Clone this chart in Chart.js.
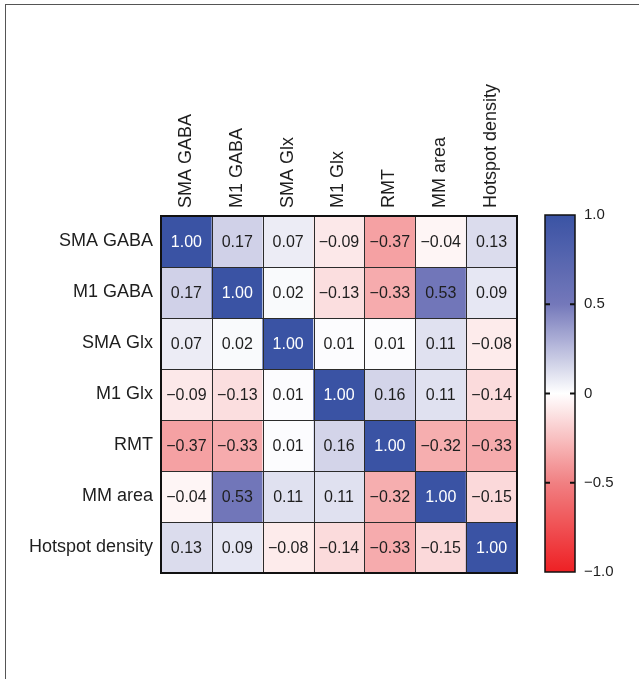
<!DOCTYPE html>
<html>
<head>
<meta charset="utf-8">
<script src="https://cdn.jsdelivr.net/npm/chart.js@4"></script>
<style>
  html, body { margin: 0; padding: 0; background: #fff; }
  #wrap { position: relative; width: 639px; height: 679px; overflow: hidden; }
  #frame { position: absolute; left: 5px; top: 4px; width: 640px; height: 690px;
           border-top: 1px solid #555; border-left: 1px solid #555; }
  #heat { position: absolute; left: 0; top: 0; }
  #bar { position: absolute; left: 530px; top: 0; }
</style>
</head>
<body>
<div id="wrap">
  <div id="frame"></div>
  <canvas id="heat" width="530" height="600"></canvas>
  <canvas id="bar" width="109" height="679"></canvas>
</div>
<script>
// variables, same order for rows and columns
const rowLabels = ['SMA GABA', 'M1 GABA', 'SMA Glx', 'M1 Glx', 'RMT', 'MM area', 'Hotspot density'];
const colLabels = ['SMA GABA', 'M1 GABA', 'SMA Glx', 'M1 Glx', 'RMT', 'MM area', 'Hotspot density'];

// correlation matrix, one array per row
const smaGaba  = [1.00, 0.17, 0.07, -0.09, -0.37, -0.04, 0.13];
const m1Gaba   = [0.17, 1.00, 0.02, -0.13, -0.33, 0.53, 0.09];
const smaGlx   = [0.07, 0.02, 1.00, 0.01, 0.01, 0.11, -0.08];
const m1Glx    = [-0.09, -0.13, 0.01, 1.00, 0.16, 0.11, -0.14];
const rmt      = [-0.37, -0.33, 0.01, 0.16, 1.00, -0.32, -0.33];
const mmArea   = [-0.04, 0.53, 0.11, 0.11, -0.32, 1.00, -0.15];
const hotspot  = [0.13, 0.09, -0.08, -0.14, -0.33, -0.15, 1.00];
const corr = [smaGaba, m1Gaba, smaGlx, m1Glx, rmt, mmArea, hotspot];

// colour bar ticks
const barTicks = [1, 0.5, 0, -0.5, -1];
const barTickLabels = ['1.0', '0.5', '0', '\u22120.5', '\u22121.0'];

const FONT = '"Liberation Sans", Arial, Helvetica, sans-serif';

// blue / white / red colour scale
const posStops = [[255, 255, 255], [116, 120, 186], [58, 83, 164]];
const negStops = [[255, 255, 255], [241, 128, 130], [238, 32, 36]];

function corrColor(v) {
    const stops = v >= 0 ? posStops : negStops;
    const t = Math.min(1, Math.abs(v)) * 2;
    const i = t >= 1 ? 1 : 0;
    const f = t - i;
    const a = stops[i], b = stops[i + 1];
    const c = a.map((x, k) => Math.round(x + (b[k] - x) * f));
    return 'rgb(' + c.join(',') + ')';
}

function fmt(v) {
    const s = Math.abs(v).toFixed(2);
    return v < 0 ? '\u2212' + s : s;
}

// draws cell values, the inner grid and the outer frame
const cellPlugin = {
    id: 'cells',
    afterDatasetsDraw(chart) {
        const ctx = chart.ctx;
        const xs = chart.scales.x, ys = chart.scales.y;
        const area = chart.chartArea;
        ctx.save();
        ctx.font = '16px ' + FONT;
        ctx.textAlign = 'center';
        ctx.textBaseline = 'middle';
        chart.data.datasets.forEach((ds, r) => {
            chart.getDatasetMeta(r).data.forEach((el, c) => {
                const v = corr[r][c];
                ctx.fillStyle = v > 0.8 ? '#ffffff' : '#1e1e1e';
                ctx.fillText(fmt(v), el.x, (el.y + el.base) / 2 + 1);
            });
        });
        ctx.strokeStyle = '#2b2b2b';
        ctx.lineWidth = 1;
        ctx.beginPath();
        for (let i = 1; i < colLabels.length; i++) {
            const x = Math.round(xs.getPixelForValue(i - 0.5)) + 0.5;
            ctx.moveTo(x, area.top);
            ctx.lineTo(x, area.bottom);
        }
        for (let i = 1; i < rowLabels.length; i++) {
            const y = Math.round(ys.getPixelForValue(i)) + 0.5;
            ctx.moveTo(area.left, y);
            ctx.lineTo(area.right, y);
        }
        ctx.stroke();
        ctx.strokeStyle = '#111';
        ctx.lineWidth = 2;
        ctx.strokeRect(area.left, area.top, area.right - area.left, area.bottom - area.top);
        ctx.restore();
    }
};

new Chart(document.getElementById('heat'), {
    type: 'bar',
    data: {
        labels: colLabels,
        datasets: corr.map((row, r) => ({
            label: rowLabels[r],
            data: row.map(() => 1),
            backgroundColor: row.map(v => corrColor(v)),
            borderWidth: 0,
            barPercentage: 1,
            categoryPercentage: 1
        }))
    },
    options: {
        responsive: false,
        animation: false,
        layout: { padding: { left: 0, top: 0, right: 13, bottom: 27 } },
        plugins: { legend: { display: false }, tooltip: { enabled: false } },
        scales: {
            x: {
                position: 'top',
                stacked: true,
                grid: { display: false },
                border: { display: false },
                ticks: {
                    autoSkip: false, minRotation: 90, maxRotation: 90,
                    padding: 0, labelOffset: 21,
                    color: '#1e1e1e', font: { family: FONT, size: 18 }
                },
                afterFit(scale) { scale.height = 216; }
            },
            y: {
                stacked: true,
                min: 0, max: 7,
                reverse: true,
                grid: { display: false },
                border: { display: false },
                afterBuildTicks(scale) {
                    scale.ticks = rowLabels.map((_, i) => ({ value: i + 0.5 }));
                },
                ticks: {
                    padding: 0, color: '#1e1e1e', font: { family: FONT, size: 18 },
                    callback: v => rowLabels[Math.floor(v)]
                },
                afterFit(scale) { scale.width = 161; }
            }
        }
    },
    plugins: [cellPlugin]
});

// colour bar: one floating bar filled with the scale gradient
function barGradient(context) {
    const chart = context.chart;
    const area = chart.chartArea;
    if (!area) return '#fff';
    const g = chart.ctx.createLinearGradient(0, area.top, 0, area.bottom);
    for (let i = 0; i <= 40; i++) {
        g.addColorStop(i / 40, corrColor(1 - i / 20));
    }
    return g;
}

const barFramePlugin = {
    id: 'barFrame',
    afterDatasetsDraw(chart) {
        const ctx = chart.ctx;
        const area = chart.chartArea;
        const ys = chart.scales.y;
        ctx.save();
        ctx.strokeStyle = '#111';
        ctx.lineWidth = 1.5;
        ctx.strokeRect(area.left, area.top, area.right - area.left, area.bottom - area.top);
        ctx.lineWidth = 2;
        ctx.beginPath();
        barTicks.slice(1, -1).forEach(t => {
            const y = ys.getPixelForValue(t);
            ctx.moveTo(area.left, y);
            ctx.lineTo(area.left + 5, y);
            ctx.moveTo(area.right - 5, y);
            ctx.lineTo(area.right, y);
        });
        ctx.stroke();
        ctx.restore();
    }
};

new Chart(document.getElementById('bar'), {
    type: 'bar',
    data: {
        labels: [''],
        datasets: [{
            data: [[-1, 1]],
            backgroundColor: barGradient,
            borderWidth: 0,
            barPercentage: 1,
            categoryPercentage: 1
        }]
    },
    options: {
        responsive: false,
        animation: false,
        layout: { padding: { left: 15, top: 215, right: 0, bottom: 107 } },
        plugins: { legend: { display: false }, tooltip: { enabled: false } },
        scales: {
            x: { display: false },
            y: {
                position: 'right',
                min: -1, max: 1,
                grid: { display: false },
                border: { display: false },
                afterBuildTicks(scale) {
                    scale.ticks = barTicks.map(v => ({ value: v }));
                },
                ticks: {
                    padding: 1, color: '#1e1e1e', font: { family: FONT, size: 15 },
                    callback: v => barTickLabels[barTicks.indexOf(v)]
                },
                afterFit(scale) { scale.width = 109 - 15 - 30; }
            }
        }
    },
    plugins: [barFramePlugin]
});
</script>
</body>
</html>
